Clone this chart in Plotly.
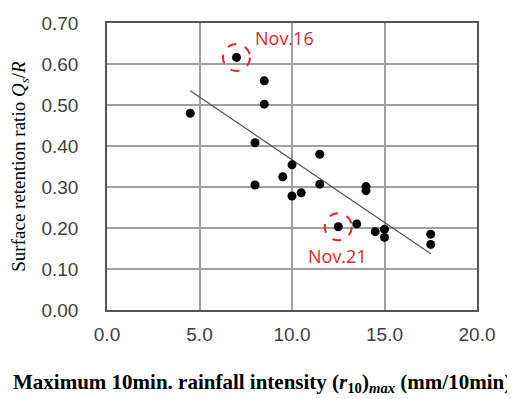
import plotly.graph_objects as go

# Data
x_vals = [4.5, 7.0, 8.0, 8.0, 8.5, 8.5, 9.5, 10.0, 10.0, 10.5, 11.5, 11.5, 12.5, 13.5, 14.0, 14.0, 14.5, 15.0, 15.0, 17.5, 17.5]
y_vals = [0.480, 0.616, 0.408, 0.305, 0.559, 0.502, 0.325, 0.354, 0.278, 0.286, 0.380, 0.307, 0.203, 0.210, 0.301, 0.291, 0.191, 0.197, 0.177, 0.185, 0.160]
trend_x = [4.5, 17.5]
trend_y = [0.535, 0.137]
ann_labels = ["Nov.16", "Nov.21"]
ann_x = [7.0, 12.5]
ann_y = [0.616, 0.203]
x_ticks = [0, 5, 10, 15, 20]
y_ticks = [0.0, 0.1, 0.2, 0.3, 0.4, 0.5, 0.6, 0.7]
x_title = "Maximum 10min. rainfall intensity (<i>r</i><sub>10</sub>)<sub><i>max</i></sub> (mm/10min)"
y_title = "Surface retention ratio <i>Q<sub>s</sub></i>/<i>R</i>"

fig = go.Figure()
fig.add_trace(go.Scatter(x=trend_x, y=trend_y, mode="lines",
                         line=dict(color="#555555", width=1.2), showlegend=False))
fig.add_trace(go.Scatter(x=x_vals, y=y_vals, mode="markers",
                         marker=dict(color="black", size=9), showlegend=False))

red = "#e8232b"
for xa, ya in zip(ann_x, ann_y):
    fig.add_shape(type="circle", xref="x", yref="y", xsizemode="pixel", ysizemode="pixel",
                  xanchor=xa, yanchor=ya, x0=-13.5, x1=13.5, y0=-13.5, y1=13.5,
                  line=dict(color=red, width=2, dash="dash"))

fig.add_annotation(x=ann_x[0], y=ann_y[0], text=ann_labels[0], showarrow=False,
                   xanchor="left", yanchor="middle", xshift=16, yshift=19,
                   font=dict(family="Open Sans", size=18, color=red))
fig.add_annotation(x=ann_x[1], y=ann_y[1], text=ann_labels[1], showarrow=False,
                   xanchor="left", yanchor="middle", xshift=-32, yshift=-29,
                   font=dict(family="Open Sans", size=18, color=red))

# x-axis title (centred on the page rather than on the plot area, as in the reference)
fig.add_annotation(xref="paper", yref="paper", x=0.419, y=0, xanchor="center", yanchor="middle",
                   yshift=-73, showarrow=False, text=x_title,
                   font=dict(family="Liberation Serif", size=21, color="black", weight="bold"))

fig.update_xaxes(range=[0, 20], tickvals=x_ticks, ticktext=[f"{v:.1f}" for v in x_ticks],
                 showgrid=True, gridcolor="#a0a0a0", gridwidth=1.5,
                 showline=True, linecolor="#555555", linewidth=1.5, mirror=True,
                 ticks="", zeroline=False, automargin=False, ticklabelstandoff=6,
                 tickfont=dict(family="Liberation Sans", size=19, color="#404040"))
fig.update_yaxes(range=[0, 0.7], tickvals=y_ticks, ticktext=[f"{v:.2f}" for v in y_ticks],
                 showgrid=True, gridcolor="#a0a0a0", gridwidth=1.5,
                 showline=True, linecolor="#555555", linewidth=1.5, mirror=True,
                 ticks="", zeroline=False, automargin=False, ticklabelstandoff=23,
                 tickfont=dict(family="Liberation Sans", size=19, color="#404040"),
                 title=dict(text=y_title,
                            font=dict(family="Liberation Serif", size=19, color="black"), standoff=14))

# page body has an 8px default margin, so the figure is sized to fit the 515x399 window
fig.update_layout(width=507, height=391, margin=dict(l=99, r=38, t=15, b=89),
                  plot_bgcolor="white", paper_bgcolor="white",
                  font=dict(family="Liberation Serif"))
fig.write_html("out.html")
